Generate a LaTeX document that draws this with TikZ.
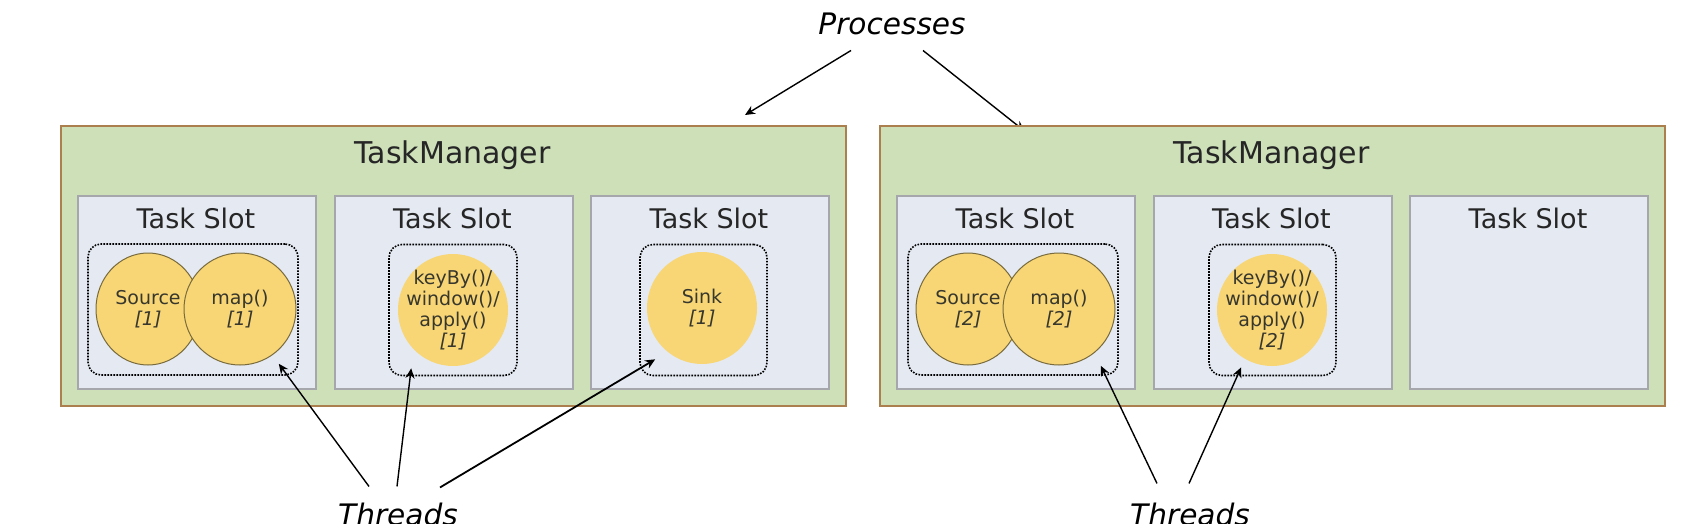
\documentclass[tikz,border=0pt]{standalone}
\usepackage{fontspec}
\setmainfont{DejaVu Sans}
\usetikzlibrary{arrows.meta, shapes.geometric, backgrounds}

\definecolor{tmfill}{RGB}{205,224,184}
\definecolor{tmborder}{RGB}{172,128,78}
\definecolor{slotfill}{RGB}{228,233,242}
\definecolor{slotborder}{RGB}{165,167,172}
\definecolor{opfill}{RGB}{248,214,117}
\definecolor{opborder}{RGB}{120,106,60}
\definecolor{optext}{RGB}{55,55,45}

\begin{document}
\begin{tikzpicture}[x=0.5pt, y=-0.5pt,
    tm/.style={draw=tmborder, fill=tmfill, line width=1pt, anchor=north west,
      minimum width=392.5pt, minimum height=140pt, inner sep=0pt},
    slot/.style={draw=slotborder, fill=slotfill, line width=1pt, anchor=north west,
      minimum width=119pt, minimum height=96.5pt, inner sep=0pt},
    threadbox/.style={draw, line width=0.8pt, dash pattern=on 0.8pt off 0.7pt,
      rounded corners=6.5pt, minimum height=65.5pt, inner sep=0pt},
    op/.style={ellipse, fill=opfill, minimum width=55pt, minimum height=56pt,
      inner xsep=-4.5pt, inner ysep=-1pt, align=center, text=optext,
      font=\fontsize{9.5}{10.4}\selectfont},
    opline/.style={op, draw=opborder, line width=0.5pt},
    tmtitle/.style={anchor=base, font=\fontsize{15}{18}\selectfont, text=black!85},
    slottitle/.style={anchor=base, font=\fontsize{13.5}{16}\selectfont, text=black!85},
    notetext/.style={anchor=base, font=\itshape\fontsize{14.8}{17.8}\selectfont},
    arr/.style={-{Stealth[length=5pt, width=4.5pt]}, line width=0.7pt}]

  % Page size
  \useasboundingbox (0,0) rectangle (1706,524);

  % Draw the two TaskManagers with three slots each
  \foreach \t/\x in {1/60, 2/879} {
    \node[tm] (tm\t) at (\x,125) {};
    \node[tmtitle] (tmt\t) at (\x+392.5,163) {TaskManager};
    \foreach \s in {1,2,3} {
      \node[slot] (slot\t\s) at ({\x+17+(\s-1)*256.5},195) {};
      \node[slottitle] (slott\t\s) at ({\x+136+(\s-1)*256.5},228) {Task Slot};
    }
  }

  % Draw the thread boxes
  \node[threadbox, minimum width=105pt] (th11) at (193,309.5) {};
  \node[threadbox, minimum width=64pt] (th12) at (453,310) {};
  \node[threadbox, minimum width=63.5pt] (th13) at (703.5,310) {};
  \node[threadbox, minimum width=105pt] (th21) at (1013,309.5) {};
  \node[threadbox, minimum width=63.5pt] (th22) at (1272.5,310) {};

  % Draw the operators
  \node[opline, minimum width=52pt] (src1) at (148,309) {Source\\\textit{[1]}};
  \node[opline, minimum width=56pt] (map1) at (240,309) {map()\\\textit{[1]}};
  \node[op] (key1) at (453,310) {keyBy()/\\window()/\\apply()\\\textit{[1]}};
  \node[op] (sink1) at (702,308) {Sink\\\textit{[1]}};
  \node[opline, minimum width=52pt] (src2) at (968,309) {Source\\\textit{[2]}};
  \node[opline, minimum width=56pt] (map2) at (1059,309) {map()\\\textit{[2]}};
  \node[op] (key2) at (1272,310) {keyBy()/\\window()/\\apply()\\\textit{[2]}};

  % Processes label and its arrows
  \node[notetext] (proc) at (892,35) {Processes};
  \coordinate (ptip) at (745,115);
  \begin{scope}[on background layer]
    \fill[white] (0,0) rectangle (1706,524);
    \draw[arr] ([xshift=-20.5pt,yshift=-4pt]proc.south) -- (ptip);
    \draw[arr] ([xshift=15.5pt,yshift=-4pt]proc.south) -- ([xshift=-124pt,yshift=-3pt]tm2.north);
  \end{scope}

  % Threads labels and their arrows
  \node[notetext] (thr1) at (398,525) {Threads};
  \node[notetext] (thr2) at (1190,525) {Threads};
  \draw[arr] ([xshift=-14.5pt,yshift=4.5pt]thr1.north) -- ([xshift=-10pt,yshift=6pt]th11.south east);
  \draw[arr] ([xshift=-0.5pt,yshift=4.5pt]thr1.north) -- ([xshift=11.5pt,yshift=4pt]th12.south west);
  \draw[arr, line width=0.9pt] ([xshift=21pt,yshift=4pt]thr1.north) -- ([xshift=8pt,yshift=8.5pt]th13.south west);
  \draw[arr] ([xshift=-16.5pt,yshift=6pt]thr2.north) -- ([xshift=-9pt,yshift=5pt]th21.south east);
  \draw[arr] ([xshift=-0.5pt,yshift=6pt]thr2.north) -- ([xshift=16.5pt,yshift=4.5pt]th22.south west);

\end{tikzpicture}
\end{document}
